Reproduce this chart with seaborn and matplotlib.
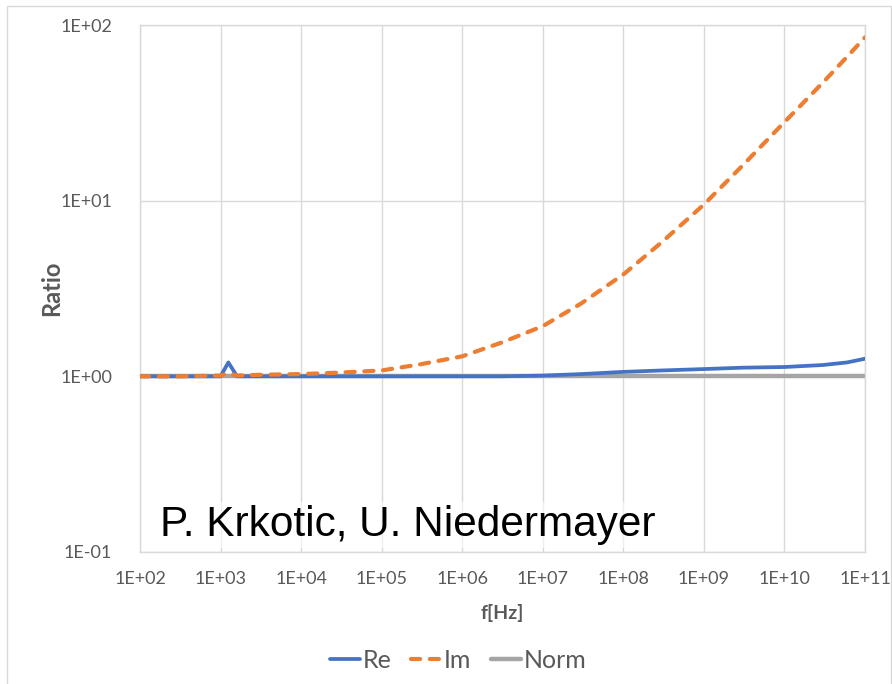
import matplotlib
matplotlib.use("Agg")
import matplotlib.pyplot as plt
import matplotlib.ticker as mticker
from matplotlib.patches import Rectangle
import seaborn as sns
import pandas as pd

# Frequency sweep (Hz) and normalised impedance ratios
freq = [1e2, 3e2, 1e3, 1.25e3, 1.6e3, 3e3, 1e4, 3e4, 1e5, 3e5, 1e6, 3e6,
        1e7, 3e7, 1e8, 3e8, 1e9, 3e9, 1e10, 3e10, 6e10, 1e11]
re_ratio = [1.0, 1.0, 1.0, 1.2, 1.0, 1.0, 1.0, 1.0, 1.0, 1.0, 1.0, 1.0,
            1.01, 1.03, 1.06, 1.08, 1.10, 1.12, 1.13, 1.16, 1.20, 1.26]
im_ratio = [1.0, 1.0, 1.01, 1.04, 1.01, 1.02, 1.03, 1.05, 1.08, 1.17, 1.30, 1.55,
            1.93, 2.6, 3.8, 5.8, 9.5, 15.8, 28.0, 47.0, 66.0, 85.0]
norm_ratio = [1.0] * len(freq)

series_names = ["Re", "Im", "Norm"]
series_colors = ["#4472C4", "#ED7D31", "#A5A5A5"]
x_tick_labels = ["1E+02", "1E+03", "1E+04", "1E+05", "1E+06",
                 "1E+07", "1E+08", "1E+09", "1E+10", "1E+11"]
y_tick_labels = ["1E-01", "1E+00", "1E+01", "1E+02"]

df = pd.DataFrame({"f": freq, "Re": re_ratio, "Im": im_ratio, "Norm": norm_ratio})

sns.set_theme(style="white")
plt.rcParams["font.family"] = ["Lato", "DejaVu Sans"]

text_gray = "#595959"
grid_gray = "#D9D9D9"

fig = plt.figure(figsize=(8.92, 6.84), dpi=100)
ax = fig.add_axes([140 / 892, 1 - 552 / 684, 725 / 892, 527 / 684])

# Norm drawn first so the other curves sit on top of it
sns.lineplot(data=df, x="f", y="Norm", ax=ax, color=series_colors[2],
             linewidth=3.2, label="Norm", zorder=2)
sns.lineplot(data=df, x="f", y="Re", ax=ax, color=series_colors[0],
             linewidth=2.7, label="Re", zorder=3)
sns.lineplot(data=df, x="f", y="Im", ax=ax, color=series_colors[1],
             linewidth=3.0, label="Im", zorder=4)
im_line = ax.lines[-1]
im_line.set_dashes((2.2, 2.3))
im_line.set_dash_capstyle("round")

ax.set_xscale("log")
ax.set_yscale("log")
ax.set_xlim(1e2, 1e11)
ax.set_ylim(1e-1, 1e2)

ax.set_xticks([10.0 ** k for k in range(2, 12)])
ax.set_xticklabels(x_tick_labels)
ax.set_yticks([10.0 ** k for k in range(-1, 3)])
ax.set_yticklabels(y_tick_labels)
ax.xaxis.set_minor_locator(mticker.NullLocator())
ax.yaxis.set_minor_locator(mticker.NullLocator())
ax.tick_params(axis="both", length=0, labelsize=13, colors=text_gray)
ax.tick_params(axis="x", pad=14)
ax.tick_params(axis="y", pad=20)

ax.grid(True, color=grid_gray, linewidth=1.0)
for side in ax.spines.values():
    side.set_color(grid_gray)
    side.set_linewidth(1.0)

ax.set_xlabel("f[Hz]", fontsize=14, fontweight="bold", color=text_gray, labelpad=12)
ax.set_ylabel("Ratio", fontsize=17, fontweight="bold", color=text_gray, labelpad=-2)

ax.text((160 - 140) / 725, (552 - 536) / 527, "P. Krkotic, U. Niedermayer",
        transform=ax.transAxes, fontsize=30.5, family="Liberation Sans", color="black",
        ha="left", va="baseline", zorder=5,
        bbox=dict(facecolor="white", edgecolor="none", alpha=0.6, pad=2))

handles, labels = ax.get_legend_handles_labels()
order = [labels.index(n) for n in series_names]
leg = fig.legend([handles[i] for i in order], [labels[i] for i in order],
                 loc="center", bbox_to_anchor=(458 / 892, 1 - 660 / 684), ncol=3,
                 frameon=False, fontsize=18, handlelength=1.2, handletextpad=0.1,
                 columnspacing=0.8, labelcolor=text_gray)
ax.get_legend().remove()

fig.add_artist(Rectangle((7 / 892, -0.01), 884 / 892, 1 - 6 / 684 + 0.01,
                         transform=fig.transFigure, fill=False,
                         edgecolor=grid_gray, linewidth=1.0))

fig.savefig("out.png", dpi=100)
